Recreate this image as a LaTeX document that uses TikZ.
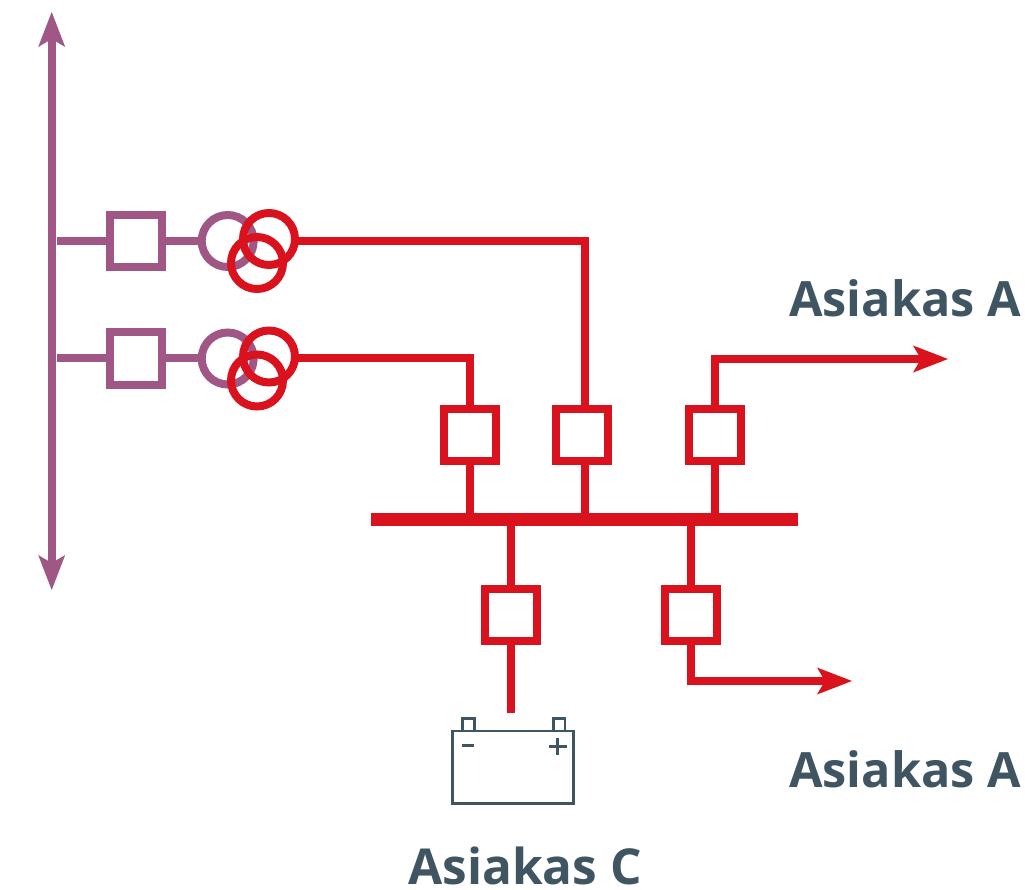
\documentclass[tikz,border=0pt]{standalone}
\usepackage{fontspec}
\setmainfont{Open Sans}
\usetikzlibrary{arrows.meta}
\definecolor{plum}{HTML}{A05785}
\definecolor{rd}{HTML}{DA121E}
\definecolor{slate}{HTML}{3F5562}
\tikzset{
 x=1pt,y=-1pt,
 box/.style={draw,fill=white,line width=8pt,minimum size=52pt,inner sep=0pt,outer sep=0pt},
 ring/.style={draw,circle,line width=8pt,minimum size=52pt,inner sep=0pt,outer sep=0pt},
 wire/.style={line width=8pt},
 tipped/.style={wire,-{Stealth[length=35pt,width=27pt,inset=8pt,line width=0pt]}},
 label/.style={font=\fontsize{48.6}{48.6}\selectfont\bfseries,text=slate,inner sep=0pt,anchor=base},
 batt/.style={draw=slate,line width=2.6pt},
}
\begin{document}
\begin{tikzpicture}
\useasboundingbox (0,0) rectangle (1025,890);
% main line
\coordinate (mtop) at (51.7,12);
\coordinate (mbot) at (51.7,590);
\draw[plum,line width=8pt,{Stealth[length=35pt,width=27pt,inset=8pt,line width=0pt]}-{Stealth[length=35pt,width=27pt,inset=8pt,line width=0pt]}] (mtop) -- (mbot);
% purple elements
\coordinate (s1) at (57,241);
\coordinate (s2) at (57,358.5);
\node[box,draw=plum] (q1) at (136,241) {};
\node[box,draw=plum] (q2) at (136,358.5) {};
\node[ring,draw=plum] (p1) at (227.7,241) {};
\node[ring,draw=plum] (p2) at (227.7,358.5) {};
\draw[plum,wire] (s1) -- (q1.west);
\draw[plum,wire] (s2) -- (q2.west);
\draw[plum,wire] (q1.east) -- (p1.west);
\draw[plum,wire] (q2.east) -- (p2.west);
% red rings
\node[ring,draw=rd] (a1) at (269,239) {};
\node[ring,draw=rd] (b1) at (257,263) {};
\node[ring,draw=rd] (a2) at (269,356.5) {};
\node[ring,draw=rd] (b2) at (257,380.5) {};
% bus
\coordinate (busl) at (371,519.8);
\coordinate (busr) at (798,519.8);
\draw[rd,line width=13pt] (busl) -- (busr);
% red boxes
\node[box,draw=rd] (r1) at (469.5,435.3) {};
\node[box,draw=rd] (r2) at (582.2,435.3) {};
\node[box,draw=rd] (r3) at (714.8,435.3) {};
\node[box,draw=rd] (r4) at (510.7,615) {};
\node[box,draw=rd] (r5) at (690.5,615) {};
% red wires
\coordinate (c1) at (584.7,241);
\coordinate (c2) at (469.5,358.5);
\coordinate (e1) at (948,359);
\coordinate (e2) at (852,681);
\coordinate (batin) at (510.7,713);
\draw[rd,wire] (a1.east |- q1) -- (c1) -- (c1 |- r2.north);
\draw[rd,wire] (a2.east |- q2) -- (c2) -- (r1.north);
\draw[rd,tipped] (r3.north) |- (e1);
\draw[rd,wire] (r1.south) -- (r1.south |- busl);
\draw[rd,wire] (c1 |- r2.south) -- (c1 |- busl);
\draw[rd,wire] (r3.south) -- (r3.south |- busl);
\draw[rd,wire] (r4.north |- busl) -- (r4.north);
\draw[rd,wire] (r5.north |- busl) -- (r5.north);
\draw[rd,wire] (r4.south) -- (batin);
\draw[rd,tipped] (r5.south) |- (e2);
% battery
\draw[batt,fill=white] (462.5,718.5) rectangle (474.5,731);
\draw[batt,fill=white] (553.5,718.5) rectangle (565,731);
\draw[batt] (452.5,731) rectangle (573.5,803.5);
\draw[batt,line width=3pt] (461.5,745.5) -- (474,745.5);
\draw[batt,line width=3pt] (549,746) -- (567,746);
\draw[batt,line width=3pt] (557.5,737.5) -- (557.5,755);
% labels
\node[label] (la) at (905,317) {Asiakas A};
\node[label] (lb) at (905,787) {Asiakas A};
\node[label,font=\fontsize{49.5}{49.5}\selectfont\bfseries] (lc) at (525,884) {Asiakas C};
\end{tikzpicture}
\end{document}
